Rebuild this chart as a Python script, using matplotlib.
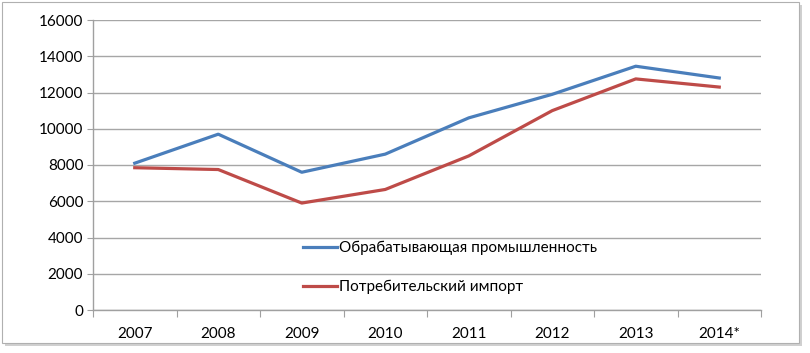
import matplotlib
matplotlib.use("Agg")
import matplotlib.pyplot as plt
from matplotlib.patches import Rectangle
import numpy as np

plt.rcParams['font.family'] = ['Lato', 'DejaVu Sans']

years = ["2007", "2008", "2009", "2010", "2011", "2012", "2013", "2014*"]
manufacturing = [8100, 9700, 7600, 8600, 10600, 11900, 13450, 12800]
consumer_import = [7850, 7750, 5900, 6650, 8500, 11000, 12750, 12300]
series_names = ["Обрабатывающая промышленность", "Потребительский импорт"]
y_ticks = [0, 2000, 4000, 6000, 8000, 10000, 12000, 14000, 16000]

W, H = 810, 353
fig = plt.figure(figsize=(W / 100, H / 100), dpi=100)
fig.patch.set_facecolor("white")

# outer frame with shadow
def px(x, y, w, h):
    return (x / W, 1 - (y + h) / H, w / W, h / H)
sx, sy, sw, sh = px(5, 5, 797, 341)
fig.patches.append(Rectangle((sx, sy), sw, sh, transform=fig.transFigure,
                             facecolor="#d0d0d0", edgecolor="none", zorder=0))
fx, fy, fw, fh = px(2, 2, 797, 341)
fig.patches.append(Rectangle((fx, fy), fw, fh, transform=fig.transFigure,
                             facecolor="white", edgecolor="#b0b0b0", lw=0.8, zorder=0.5))

left, right, top, bottom = 93, 761, 20, 310
ax = fig.add_axes([left / W, 1 - bottom / H, (right - left) / W, (bottom - top) / H])
ax.set_facecolor("none")
ax.set_zorder(2)

x = np.arange(len(years)) + 0.5
ax.plot(x, manufacturing, color="#4A7EBB", lw=2.3, label=series_names[0], solid_joinstyle="round", zorder=3)
ax.plot(x, consumer_import, color="#BE4B48", lw=2.3, label=series_names[1], solid_joinstyle="round", zorder=3)

ax.set_xlim(0, len(years))
ax.set_ylim(0, 16000)
ax.set_yticks(y_ticks)
ax.set_yticklabels([str(v) for v in y_ticks], fontsize=11)
ax.yaxis.grid(True, color="#a6a6a6", lw=1.0)
ax.set_axisbelow(True)

ax.set_xticks(np.arange(len(years) + 1))
ax.set_xticklabels([])
ax.set_xticks(x, minor=True)
ax.set_xticklabels(years, minor=True, fontsize=11)
ax.tick_params(axis="x", which="major", length=5, color="#a0a0a0", direction="out")
ax.tick_params(axis="x", which="minor", length=0, pad=12)
ax.tick_params(axis="y", length=4, color="#a0a0a0", pad=3)

for s in ["top", "right"]:
    ax.spines[s].set_visible(False)
for s in ["left", "bottom"]:
    ax.spines[s].set_color("#a0a0a0")
    ax.spines[s].set_linewidth(1.0)

leg = ax.legend(loc="upper left", bbox_to_anchor=((303 - left) / (right - left), 1 - (241 - top) / (bottom - top)),
                frameon=False, fontsize=11, handlelength=2.2, handletextpad=0.15,
                labelspacing=1.6, borderpad=0, borderaxespad=0)

fig.savefig("out.png", dpi=100)
